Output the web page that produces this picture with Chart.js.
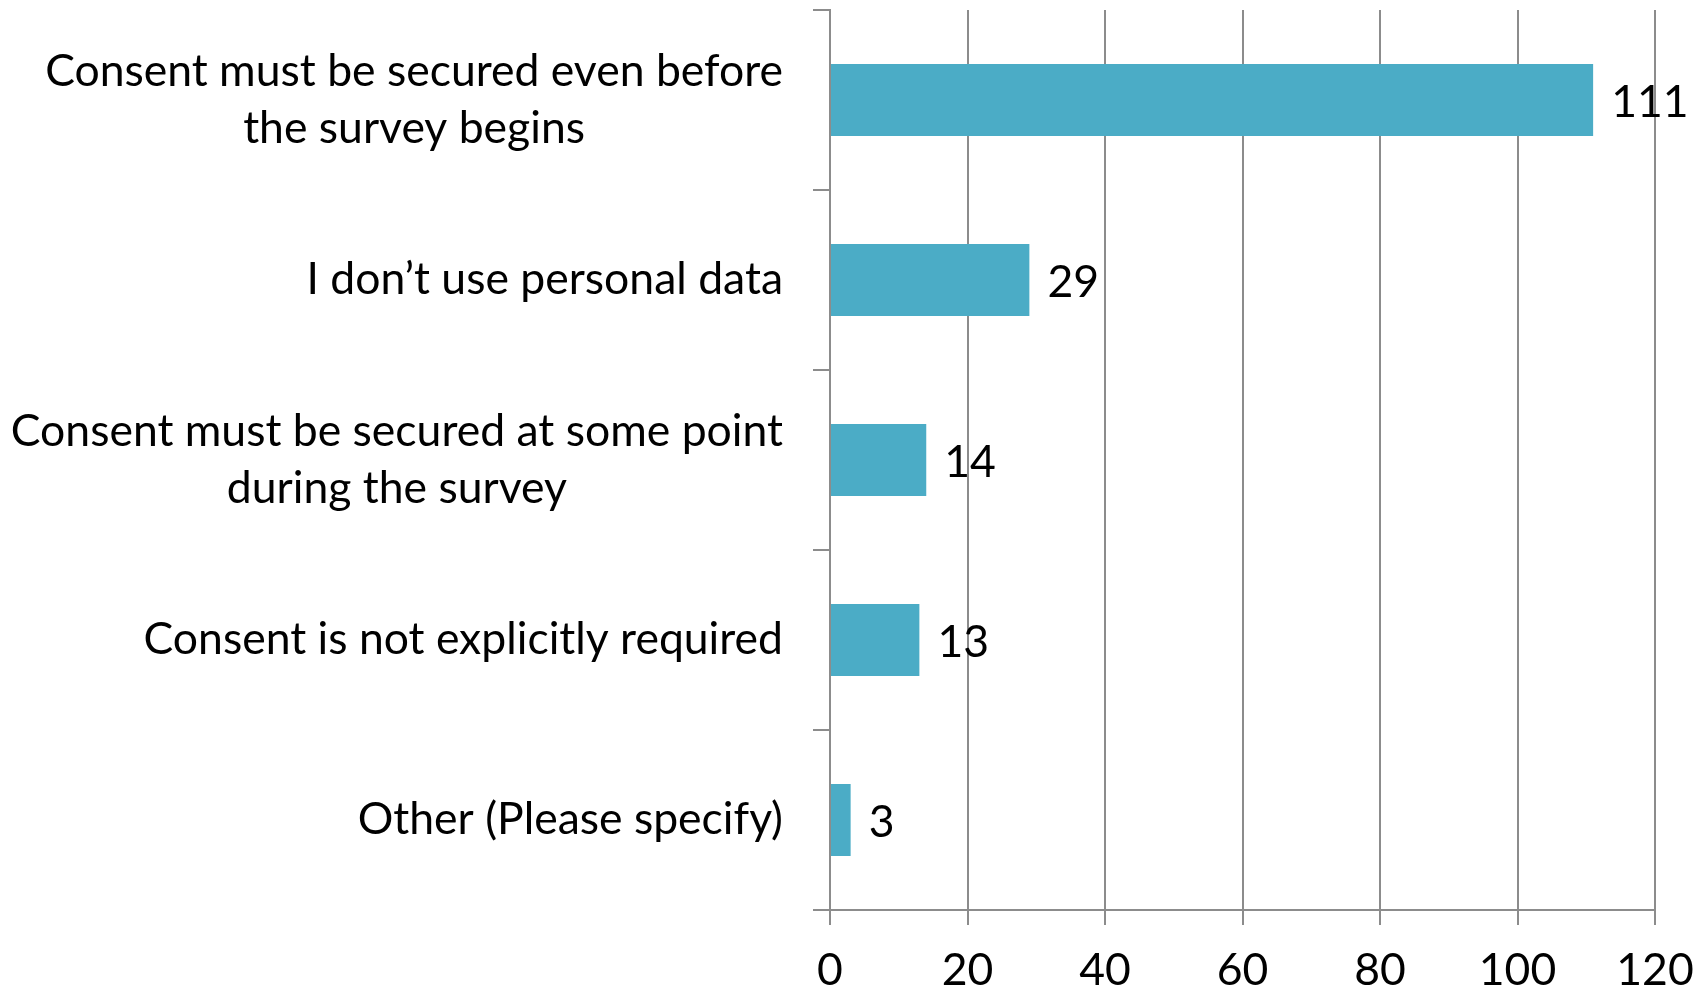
<!DOCTYPE html>
<html>
<head>
<meta charset="utf-8">
<script src="https://cdn.jsdelivr.net/npm/chart.js@4/dist/chart.umd.min.js"></script>
<style>
  html, body { margin: 0; padding: 0; background: #fff; }
  #wrap { width: 1705px; height: 991px; }
</style>
</head>
<body>
<div id="wrap"><canvas id="chart" width="1705" height="991"></canvas></div>
<script>
// data
const categories = [
  ["Consent must be secured even before", "the survey begins"],
  ["I don\u2019t use personal data"],
  ["Consent must be secured at some point", "during the survey"],
  ["Consent is not explicitly required"],
  ["Other (Please specify)"]
]
const counts = [111, 29, 14, 13, 3]
const xTicks = [0, 20, 40, 60, 80, 100, 120]

const barColor = "#4bacc6"
const lineColor = "#8c8c8c"
const fontFamily = "Lato, 'Open Sans', sans-serif"
const fontSize = 44.5
const lineH = 57

// value labels drawn past the end of every bar
const valueLabels = {
  id: "valueLabels",
  afterDatasetsDraw(chart) {
    const ctx = chart.ctx
    const meta = chart.getDatasetMeta(0)
    ctx.save()
    ctx.font = fontSize + "px " + fontFamily
    ctx.fillStyle = "#000"
    ctx.textAlign = "left"
    ctx.textBaseline = "middle"
    meta.data.forEach((bar, i) => {
      ctx.fillText(String(counts[i]), bar.x + 18, bar.y + 3)
    })
    ctx.restore()
  }
}

// category labels: block right aligned to the axis, lines centred inside the block
const categoryLabels = {
  id: "categoryLabels",
  afterDraw(chart) {
    const ctx = chart.ctx
    const yScale = chart.scales.y
    const right = yScale.right - 17 - 30
    ctx.save()
    ctx.font = fontSize + "px " + fontFamily
    ctx.fillStyle = "#000"
    ctx.textAlign = "center"
    ctx.textBaseline = "middle"
    categories.forEach((lines, i) => {
      const yc = yScale.getPixelForValue(i)
      const w = Math.max(...lines.map(l => ctx.measureText(l).width))
      const cx = right - w / 2
      const top = yc - (lines.length - 1) * lineH / 2
      lines.forEach((l, j) => ctx.fillText(l, cx, top + j * lineH))
    })
    ctx.restore()
  }
}

const chart = new Chart(document.getElementById("chart"), {
  type: "bar",
  data: {
    labels: categories,
    datasets: [{
      data: counts,
      backgroundColor: barColor,
      borderWidth: 0,
      barPercentage: 0.4,
      categoryPercentage: 1
    }]
  },
  options: {
    indexAxis: "y",
    responsive: false,
    animation: false,
    layout: { padding: { top: 10, right: 50, left: 0, bottom: 0 } },
    plugins: { legend: { display: false }, tooltip: { enabled: false } },
    scales: {
      x: {
        min: xTicks[0],
        max: xTicks[xTicks.length - 1],
        afterBuildTicks(scale) {
          scale.ticks = xTicks.map(v => ({ value: v }))
        },
        afterFit(scale) {
          scale.height = 81
          scale.paddingLeft = 0
          scale.paddingRight = 0
        },
        grid: { color: lineColor, lineWidth: 2, tickLength: 15, drawTicks: true },
        border: { color: lineColor, width: 2 },
        ticks: {
          color: "#000",
          padding: 19,
          font: { family: fontFamily, size: fontSize }
        }
      },
      y: {
        afterFit(scale) {
          scale.width = 830
          scale.paddingTop = 0
          scale.paddingBottom = 0
        },
        grid: { offset: true, drawOnChartArea: false, color: lineColor, lineWidth: 2, tickLength: 17 },
        border: { color: lineColor, width: 2 },
        ticks: { display: false }
      }
    }
  },
  plugins: [valueLabels, categoryLabels]
})
</script>
</body>
</html>
